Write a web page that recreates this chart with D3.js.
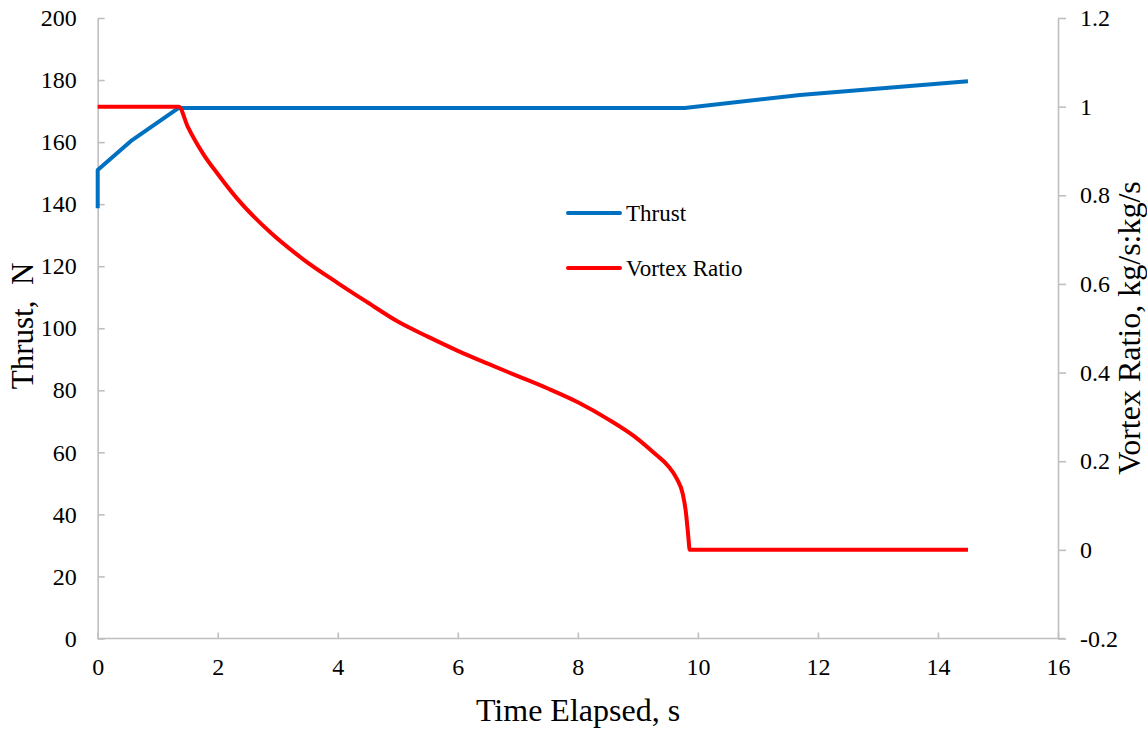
<!DOCTYPE html>
<html><head><meta charset="utf-8">
<script src="https://cdn.jsdelivr.net/npm/d3@7"></script>
<style>body{margin:0;background:#fff}svg{display:block}text{font-family:"Liberation Serif","Times New Roman",serif;fill:#000}.tick text{font-family:"Liberation Serif","Times New Roman",serif !important}</style>
</head><body><svg id="c" width="1147" height="729"></svg>
<script>
const thrustT = [0, 0, 0.55, 1.35, 9.78, 11.7, 14.5];
const thrustV = [138.7, 151, 160.3, 171, 171, 175.2, 179.6];
const vortexT = [0, 1.35, 1.5, 1.76, 2.0, 2.32, 2.87, 3.43, 4.0, 4.5, 5.0, 5.5, 6.0, 6.5, 7.0, 7.5, 8.0, 8.5, 9.0, 9.3, 9.5, 9.65, 9.75, 9.80, 9.83, 9.85, 9.86, 14.5];
const vortexV = [1, 1, 0.955, 0.893, 0.848, 0.793, 0.717, 0.655, 0.602, 0.558, 0.515, 0.481, 0.449, 0.42, 0.392, 0.364, 0.333, 0.295, 0.25, 0.215, 0.19, 0.16, 0.125, 0.085, 0.045, 0.015, 0, 0];
const xTicks = [0,2,4,6,8,10,12,14,16];
const yLeftTicks = [0,20,40,60,80,100,120,140,160,180,200];
const yRightTicks = [-0.2,0,0.2,0.4,0.6,0.8,1,1.2];

const svg = d3.select("#c");
const L=97.7, R=1058, T=18, B=638.5;
const x = d3.scaleLinear().domain([0,16]).range([L,R]);
const yL = d3.scaleLinear().domain([0,200]).range([B,T]);
const yR = d3.scaleLinear().domain([-0.2,1.2]).range([B,T]);
const grey="#bfbfbf";
const serif='"Liberation Serif", "Times New Roman", serif';

const gx = svg.append("g").attr("transform",`translate(0,${B})`)
  .call(d3.axisBottom(x).tickValues(xTicks).tickSizeInner(-6).tickSizeOuter(0).tickPadding(19).tickFormat(d3.format("d")));
const gl = svg.append("g").attr("transform",`translate(${L},0)`)
  .call(d3.axisLeft(yL).tickValues(yLeftTicks).tickSizeInner(-7).tickSizeOuter(0).tickPadding(21).tickFormat(d3.format("d")));
const gr = svg.append("g").attr("transform",`translate(${R},0)`)
  .call(d3.axisRight(yR).tickValues(yRightTicks).tickSizeInner(8).tickSizeOuter(0).tickPadding(14).tickFormat(d=>String(+d.toFixed(1))));
[gx,gl,gr].forEach(g=>{
  g.attr("font-family",serif).attr("font-size",24);
  g.selectAll("path").attr("stroke",grey).attr("stroke-width",1.6);
  g.selectAll("line").attr("stroke",grey).attr("stroke-width",1.6);
  g.selectAll("text").attr("font-family",serif).attr("font-size",24).style("font-size","24px").attr("fill","#000");
});
gx.select("path").attr("d",`M${L},0H${R+7}`);

const lineT = d3.line().x((d,i)=>x(thrustT[i])).y(d=>yL(d));
const lineV = d3.line().x((d,i)=>x(vortexT[i])).y(d=>yR(d)).curve(d3.curveMonotoneX);
svg.append("path").attr("d",lineT(thrustV)).attr("fill","none").attr("stroke","#0070c0").attr("stroke-width",4).attr("stroke-linejoin","round");
svg.append("path").attr("d",lineV(vortexV)).attr("fill","none").attr("stroke","#ff0000").attr("stroke-width",4).attr("stroke-linejoin","round");

const leg=[["Thrust","#0070c0",213],["Vortex Ratio","#ff0000",268]];
leg.forEach(([n,c,y])=>{
  svg.append("line").attr("x1",568).attr("x2",620).attr("y1",y).attr("y2",y).attr("stroke",c).attr("stroke-width",4).attr("stroke-linecap","round");
  svg.append("text").attr("x",626).attr("y",y+8).style("font-size","23px").text(n);
});

svg.append("text").attr("transform","translate(33,326) rotate(-90)").attr("text-anchor","middle").style("font-size","31px").text("Thrust,\u00a0 N");
svg.append("text").attr("x",578).attr("y",721).attr("text-anchor","middle").style("font-size","32px").text("Time Elapsed, s");
svg.append("text").attr("transform","translate(1140,328) rotate(-90)").attr("text-anchor","middle").style("font-size","32px").text("Vortex Ratio, kg/s:kg/s");
</script></body></html>
